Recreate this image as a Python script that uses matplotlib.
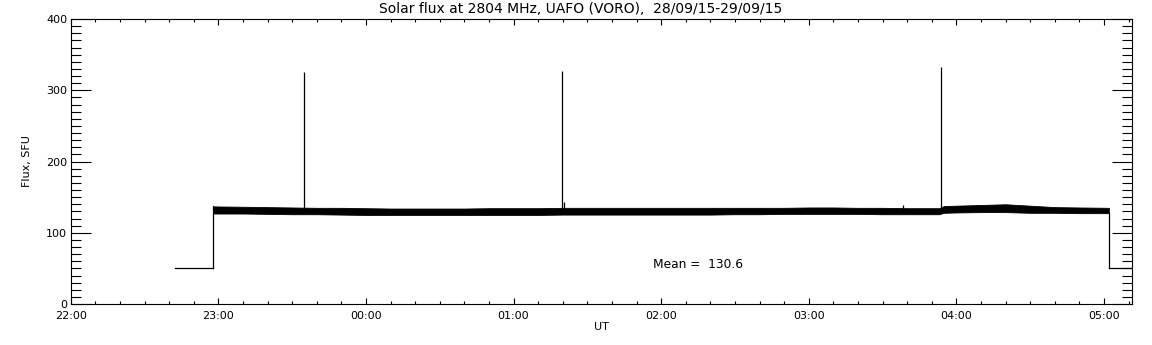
import matplotlib
matplotlib.use("Agg")
import matplotlib.pyplot as plt
from matplotlib.ticker import MultipleLocator, FixedLocator

# time axis in minutes after 22:00 UT (28/09/15)
hour_ticks = [0, 60, 120, 180, 240, 300, 360, 420]
hour_labels = ["22:00", "23:00", "00:00", "01:00", "02:00", "03:00", "04:00", "05:00"]

# calibration level before / after the solar track
pre_min = [42.4, 58.0]
pre_flux = [50, 50]
post_min = [422.0, 440.0]
post_flux = [50, 50]

# envelope of the noisy solar flux record
band_min = [58, 70, 80, 90, 100, 110, 120, 130, 140, 150, 160, 170, 180, 190,
            200, 210, 220, 230, 240, 250, 260, 270, 280, 290, 300, 310, 320,
            330, 340, 353, 355, 360, 370, 380, 390, 400, 410, 422]
band_low = [127, 127, 126.5, 126, 126, 125.5, 125, 125, 125, 125, 125, 125,
            125, 125, 125.5, 125.5, 125.5, 125.5, 125.5, 125.5, 125.5, 126,
            126, 126.5, 126.5, 126.5, 126.5, 126, 126, 126, 128, 128.5, 129,
            129, 128, 128, 127.5, 127.5]
band_high = [137, 136.5, 136, 135.5, 135, 135, 134.5, 134, 134, 134, 134,
             134.5, 134.5, 134.5, 135, 135, 135, 135, 135, 135, 135, 135, 135,
             135, 135.5, 135.5, 135, 135, 134.5, 134.5, 137.5, 138, 139, 140,
             138, 136, 135.5, 135]

# short spikes (interference / calibration pulses)
spike_min = [94.9, 199.9, 353.9, 200.6, 338.2]
spike_top = [325, 327, 332, 143, 139]
spike_base = 131

mean_flux = 130.6

plt.rcParams["font.family"] = ["DejaVu Sans"]

fig = plt.figure(figsize=(11.52, 3.45), dpi=100)
ax = fig.add_axes([0.0614, 0.1188, 0.9210, 0.8261])

ax.plot(pre_min, pre_flux, color="black", lw=0.9)
ax.plot([pre_min[-1], pre_min[-1]], [pre_flux[-1], band_high[0]], color="black", lw=0.9)
ax.fill_between(band_min, band_low, band_high, color="black", lw=0.6, edgecolor="black")
ax.plot([post_min[0], post_min[0]], [band_low[-1], post_flux[0]], color="black", lw=0.9)
ax.plot(post_min, post_flux, color="black", lw=0.9)
ax.vlines(spike_min, spike_base, spike_top, color="black", lw=0.9)

ax.text(236.7, 55, f"Mean =  {mean_flux:.1f}", fontsize=8.8, ha="left", va="center")

ax.set_xlim(0, 431.3)
ax.set_ylim(0, 400)
ax.xaxis.set_major_locator(FixedLocator(hour_ticks))
ax.set_xticklabels(hour_labels)
ax.xaxis.set_minor_locator(MultipleLocator(10))
ax.yaxis.set_major_locator(MultipleLocator(100))
ax.yaxis.set_minor_locator(MultipleLocator(10))

ax.tick_params(which="both", direction="in", top=True, right=True,
               labelsize=8, width=0.8, colors="black")
ax.tick_params(axis="x", which="major", length=4.3, pad=5)
ax.tick_params(axis="x", which="minor", length=2.2)
ax.tick_params(axis="y", which="major", length=14.4, pad=2.5)
ax.tick_params(axis="y", which="minor", length=7.2)
for s in ax.spines.values():
    s.set_linewidth(0.8)

ax.set_xlabel("UT", fontsize=8, labelpad=1)
ax.set_ylabel("Flux, SFU", fontsize=8, labelpad=10)
fig.text(0.504, 0.975, "Solar flux at 2804 MHz, UAFO (VORO),  28/09/15-29/09/15",
         fontsize=10, ha="center", va="center")

fig.savefig("out.png", dpi=100, facecolor="white")
